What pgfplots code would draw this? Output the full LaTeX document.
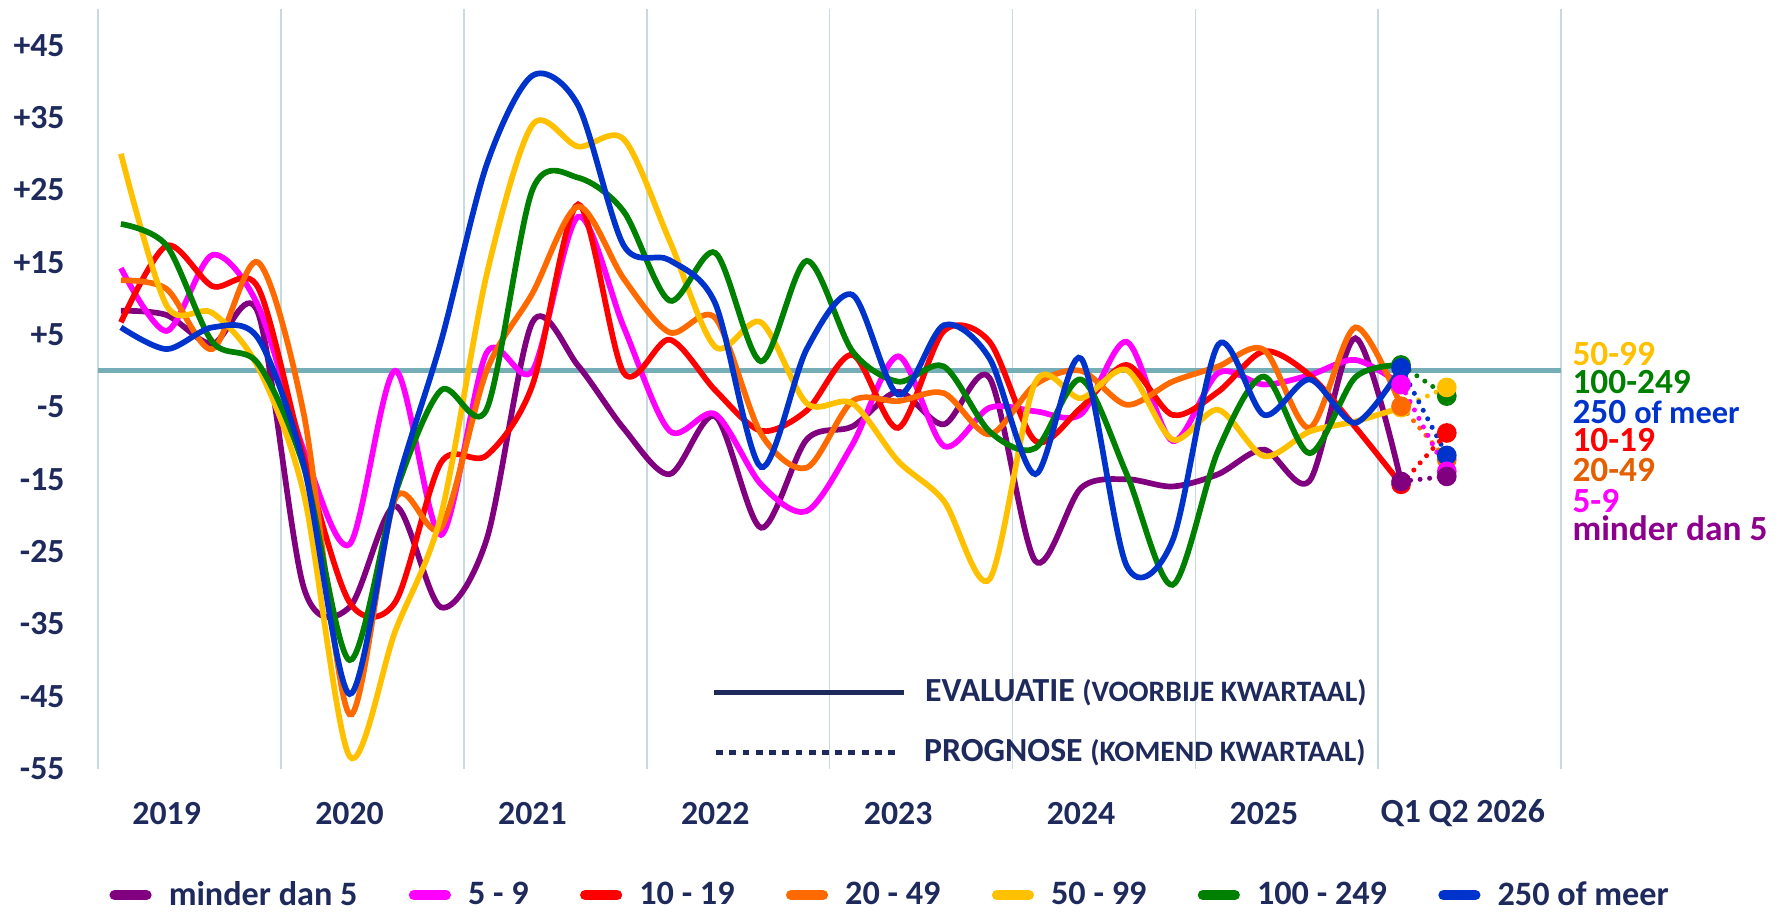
\documentclass[border=0pt]{standalone}
\usepackage{pgfplots}
\pgfplotsset{compat=1.18}
\usepackage{fontspec}
\setmainfont{Carlito}
\definecolor{cPur}{HTML}{800080}
\definecolor{cMag}{HTML}{FF00FF}
\definecolor{cRed}{HTML}{FF0000}
\definecolor{cOra}{HTML}{FF6A00}
\definecolor{cYel}{HTML}{FFC000}
\definecolor{cGre}{HTML}{008000}
\definecolor{cBlu}{HTML}{0033CC}
\definecolor{navy}{HTML}{1F2A5C}
\definecolor{gridc}{HTML}{C6DADF}
\definecolor{zeroc}{HTML}{76AEB8}
\begin{document}
\begin{tikzpicture}
\path[use as bounding box] (-43pt,-62.5pt) rectangle (741pt,337pt);
\begin{axis}[
    at={(0,0)}, anchor=south west,
    scale only axis, width=641.5pt, height=333pt,
    xmin=-0.5, xmax=31.5, ymin=-55, ymax=50,
    axis line style={draw=none},
    major tick length=0pt, minor tick length=0pt,
    xtick={1,5,9,13,17,21,25,29.35},
    xticklabels={2019,2020,2021,2022,2023,2024,2025,Q1 Q2 2026},
    minor xtick={-0.5,3.5,...,31.5},
    xminorgrids, minor grid style={draw=gridc, line width=0.7pt},
    ytick={-55,-45,...,45},
    yticklabels={-55,-45,-35,-25,-15,-5,+5,+15,+25,+35,+45},
    ticklabel style={font=\fontsize{14.8}{14.8}\selectfont\bfseries, text=navy},
    xticklabel style={anchor=center, yshift=-19.5pt},
    yticklabel style={anchor=east, inner sep=0pt, xshift=-14.5pt},
    extra y ticks={0}, extra y tick labels={\mbox{}},
    extra y tick style={grid=major, major grid style={draw=zeroc, line width=2.3pt}},
    clip=false,
    legend columns=7,
    legend style={at={(0,-0.1667)}, anchor=west, xshift=5pt, draw=none, fill=none,
        inner sep=0pt, outer sep=0pt, text=navy,
        font=\fontsize{15}{15}\selectfont\bfseries,
        nodes={inner xsep=0pt},
        /tikz/every odd column/.append style={column sep=7.5pt},
        /tikz/every even column/.append style={column sep=22.5pt}},
    legend image code/.code={\draw[#1, line width=4.5pt, line cap=round] (2.25pt,0pt) -- (16.25pt,0pt);},
    every axis plot/.append style={line width=2.5pt},
]
% evaluatie (solid, smoothed)
\addplot[cPur, smooth, tension=0.5] coordinates {(0,8.3)(1,7.7)(2,3.7)(3,8)(4,-30)(5,-32.7)(6,-18.7)(7,-32.7)(8,-23.3)(9,6.7)(10,0.7)(11,-8)(12,-14.3)(13,-6.3)(14,-21.7)(15,-9.5)(16,-7.7)(17,-2.9)(18,-7.4)(19,-1)(20,-26.3)(21,-16.2)(22,-15)(23,-16)(24,-14.3)(25,-10.9)(26,-15.2)(27,4.5)(28,-15.3)};
\addlegendentry{minder dan 5}
\addplot[cMag, smooth, tension=0.5] coordinates {(0,14.2)(1,5.5)(2,16)(3,9)(4,-11)(5,-24)(6,0)(7,-22.7)(8,2.5)(9,0)(10,21.3)(11,6)(12,-8.3)(13,-6)(14,-15.7)(15,-19.4)(16,-10.2)(17,2)(18,-10.4)(19,-5.1)(20,-5.6)(21,-6)(22,4)(23,-9.7)(24,-0.3)(25,-1.9)(26,-0.6)(27,1.5)(28,-1.9)};
\addlegendentry{5 - 9}
\addplot[cRed, smooth, tension=0.5] coordinates {(0,6.7)(1,17.3)(2,11.7)(3,11.5)(4,-12)(5,-32)(6,-32)(7,-12.7)(8,-11.7)(9,-2)(10,23)(11,-0.3)(12,4.3)(13,-2.7)(14,-8.3)(15,-5.5)(16,2.2)(17,-7.9)(18,5.5)(19,4)(20,-9.7)(21,-5.1)(22,0.8)(23,-6.1)(24,-2.9)(25,2.7)(26,-0.6)(27,-7.8)(28,-15.7)};
\addlegendentry{10 - 19}
\addplot[cOra, smooth, tension=0.5] coordinates {(0,12.5)(1,11.3)(2,3)(3,15)(4,-6)(5,-47.5)(6,-17.7)(7,-21.7)(8,0)(9,10.7)(10,22.7)(11,12.7)(12,5.3)(13,7.3)(14,-8.7)(15,-13.4)(16,-4.2)(17,-4.2)(18,-3.1)(19,-8.8)(20,-1.9)(21,0)(22,-4.7)(23,-1.5)(24,0.6)(25,2.9)(26,-7.9)(27,6)(28,-4.9)};
\addlegendentry{20 - 49}
\addplot[cYel, smooth, tension=0.5] coordinates {(0,30)(1,9)(2,8)(3,0.5)(4,-17)(5,-53.3)(6,-36)(7,-20)(8,13.3)(9,34)(10,31)(11,32)(12,18)(13,3.3)(14,6.7)(15,-4.5)(16,-4.5)(17,-12.5)(18,-18)(19,-28.8)(20,-1.6)(21,-3.8)(22,0.1)(23,-9.5)(24,-5.4)(25,-11.8)(26,-8.4)(27,-7)(28,-5.1)};
\addlegendentry{50 - 99}
\addplot[cGre, smooth, tension=0.5] coordinates {(0,20.3)(1,17.3)(2,4)(3,1)(4,-13.3)(5,-40)(6,-17)(7,-2.7)(8,-5.3)(9,25)(10,26.7)(11,22)(12,9.7)(13,16.3)(14,1.3)(15,15.2)(16,2.7)(17,-1.5)(18,0.6)(19,-8.4)(20,-10.7)(21,-1.2)(22,-14.3)(23,-29.6)(24,-11)(25,-0.8)(26,-11.4)(27,-0.9)(28,0.8)};
\addlegendentry{100 - 249}
\addplot[cBlu, smooth, tension=0.5] coordinates {(0,6)(1,3)(2,6)(3,4.5)(4,-13)(5,-44.7)(6,-16.7)(7,4)(8,28.5)(9,40.8)(10,36.7)(11,17.3)(12,15.3)(13,9.3)(14,-13.3)(15,3)(16,10.5)(17,-3.3)(18,6.3)(19,1.7)(20,-14.3)(21,1.7)(22,-27)(23,-23.5)(24,3.6)(25,-6.1)(26,-1.2)(27,-7.2)(28,0.4)};
\addlegendentry{250 of meer}
% prognose (dotted)
\pgfplotsset{prog/.style={forget plot, line width=2.2pt, line cap=round, dash pattern=on 0pt off 4.2pt, mark=*, mark size=3.2pt, mark options={solid}}}
\addplot[cGre, prog] coordinates {(28,0.8)(29,-3.5)};
\addplot[cYel, prog] coordinates {(28,-5.1)(29,-2.3)};
\addplot[cOra, prog] coordinates {(28,-4.9)(29,-12.3)};
\addplot[cBlu, prog] coordinates {(28,0.4)(29,-11.7)};
\addplot[cMag, prog] coordinates {(28,-1.9)(29,-13.9)};
\addplot[cRed, prog] coordinates {(28,-15.7)(29,-8.6)};
\addplot[cPur, prog] coordinates {(28,-15.3)(29,-14.6)};
% evaluatie / prognose key
\draw[navy, line width=2.2pt] (axis cs:12.97,-44.5) -- (axis cs:17.13,-44.5);
\node[anchor=west, inner sep=0pt, text=navy, font=\bfseries] at (axis cs:17.58,-44.5)
    {\fontsize{14.8}{14.8}\selectfont EVALUATIE \fontsize{13}{13}\selectfont(VOORBIJE KWARTAAL)};
\draw[navy, line width=2.2pt, dash pattern=on 3pt off 2.8pt] (axis cs:13.02,-52.8) -- (axis cs:17.06,-52.8);
\node[anchor=west, inner sep=0pt, text=navy, font=\bfseries] at (axis cs:17.56,-52.8)
    {\fontsize{14.8}{14.8}\selectfont PROGNOSE \fontsize{13}{13}\selectfont(KOMEND KWARTAAL)};
% labels right of the chart
\begin{scope}[every node/.style={anchor=west, inner sep=0pt, text height=0.62em, text depth=0pt, font=\bfseries\fontsize{15.5}{15.5}\selectfont}]
\node[text=cYel] at (axis cs:31.74,1.7) {50-99};
\node[text=cGre] at (axis cs:31.74,-2.2) {100-249};
\node[text=cBlu] at (axis cs:31.74,-6.3) {250 \fontsize{14.2}{14.2}\selectfont of meer};
\node[text=cRed] at (axis cs:31.74,-10.2) {10-19};
\node[text=cOra!90!black] at (axis cs:31.74,-14.3) {20-49};
\node[text=cMag] at (axis cs:31.74,-18.6) {5-9};
\node[text=cPur!90!magenta] at (axis cs:31.74,-22.5) {minder dan 5};
\end{scope}
\end{axis}
\end{tikzpicture}
\end{document}
